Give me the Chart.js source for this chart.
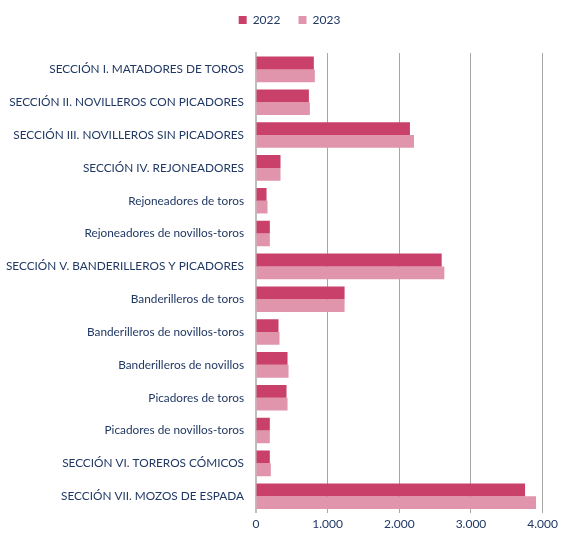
<!DOCTYPE html>
<html>
<head>
<meta charset="utf-8">
<script src="https://cdn.jsdelivr.net/npm/chart.js@4/dist/chart.umd.min.js"></script>
<style>
  html, body { margin: 0; padding: 0; background: #ffffff; }
  #wrap { width: 562px; height: 536px; position: relative; }
</style>
</head>
<body>
<div id="wrap"><canvas id="c" width="562" height="536"></canvas></div>
<script>
const categories = [
  "SECCIÓN I. MATADORES DE TOROS",
  "SECCIÓN II. NOVILLEROS CON PICADORES",
  "SECCIÓN III. NOVILLEROS SIN PICADORES",
  "SECCIÓN IV. REJONEADORES",
  "Rejoneadores de toros",
  "Rejoneadores de novillos-toros",
  "SECCIÓN V. BANDERILLEROS Y PICADORES",
  "Banderilleros de toros",
  "Banderilleros de novillos-toros",
  "Banderilleros de novillos",
  "Picadores de toros",
  "Picadores de novillos-toros",
  "SECCIÓN VI. TOREROS CÓMICOS",
  "SECCIÓN VII. MOZOS DE ESPADA"
];
const values2022 = [807, 738, 2148, 342, 147, 193, 2591, 1236, 314, 440, 426, 193, 193, 3754];
const values2023 = [821, 752, 2204, 342, 161, 193, 2628, 1236, 328, 454, 440, 193, 207, 3908];
const seriesNames = ["2022", "2023"];
const xTicks = [0, 1000, 2000, 3000, 4000];

const FONT = "Lato, 'Open Sans', sans-serif";
const TEXT = "#203864";

const legendTweak = {
  id: 'legendTweak',
  beforeInit(chart) {
    const orig = chart.legend.fit;
    chart.legend.fit = function () { orig.bind(chart.legend)(); this.height += 12; };
  },
  beforeDraw(chart) {
    if (!chart.$shifted) {
      chart.legend.left += 16; chart.legend.right += 16;
      chart.legend.top -= 5; chart.legend.bottom -= 5;
      chart.$shifted = true;
    }
  }
};

new Chart(document.getElementById('c'), {
  type: 'bar',
  data: {
    labels: categories,
    datasets: [
      { label: seriesNames[0], data: values2022, backgroundColor: '#C9406A', borderWidth: 0 },
      { label: seriesNames[1], data: values2023, backgroundColor: '#E195AD', borderWidth: 0 }
    ]
  },
  plugins: [legendTweak],
  options: {
    indexAxis: 'y',
    responsive: false,
    animation: false,
    devicePixelRatio: 1,
    layout: { padding: { left: 4, right: 19, top: 1, bottom: 1 } },
    datasets: { bar: { categoryPercentage: 0.78, barPercentage: 1.0 } },
    plugins: {
      legend: {
        position: 'top',
        labels: {
          boxWidth: 8, boxHeight: 8, padding: 18,
          color: TEXT, font: { family: FONT, size: 12 }
        }
      },
      tooltip: { enabled: false }
    },
    scales: {
      x: {
        min: 0, max: 4000,
        afterBuildTicks: (s) => { s.ticks = xTicks.map(v => ({ value: v })); },
        ticks: {
          color: TEXT, font: { family: FONT, size: 12 }, padding: 4,
          callback: (v) => v.toLocaleString('de-DE')
        },
        grid: { color: '#A6A6A6', lineWidth: 1, drawTicks: false },
        border: { display: false }
      },
      y: {
        afterFit: (s) => { s.width = 252; },
        ticks: { color: TEXT, font: { family: FONT, size: 11.8 }, padding: 12 },
        grid: { display: false, drawTicks: false },
        border: { display: true, color: '#BFBFBF', width: 2 }
      }
    }
  }
});
</script>
</body>
</html>
